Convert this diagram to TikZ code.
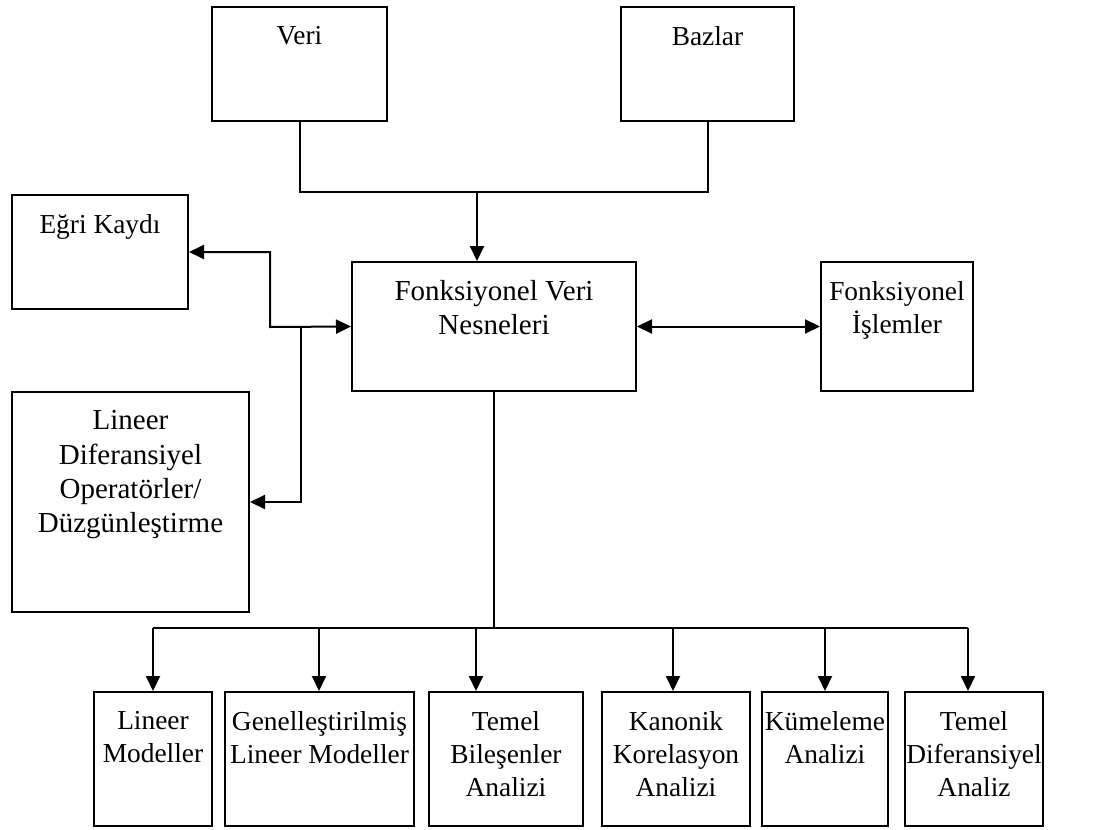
\documentclass[tikz,border=0pt]{standalone}
\usepackage{fontspec}
\setmainfont{Liberation Serif}
\usetikzlibrary{arrows.meta,positioning}

\tikzset{
  box/.style={draw, line width=1pt, inner sep=0pt},
  txt/.style={inner sep=0pt, align=center, font=\fontsize{13.7pt}{16.6pt}\selectfont},
  uptxt/.style={txt, font=\fontsize{14.5pt}{17.2pt}\selectfont},
  wire/.style={line width=1pt},
  arr/.style={wire, -{Triangle[length=7.5pt,width=7pt]}},
  arrs/.style={wire, {Triangle[length=7.5pt,width=7pt]}-{Triangle[length=7.5pt,width=7pt]}},
}

\begin{document}
\begin{tikzpicture}[x=0.5pt, y=-0.5pt]

	\useasboundingbox (0,0) rectangle (1109,830);

	% Node definitions.
	\node[box, minimum width=87.5pt, minimum height=57pt]   (veri) at (299.5,64) {};
	\node[box, minimum width=86.5pt, minimum height=57pt] (bazlar) at (707.5,64) {};
	\node[box, minimum width=88pt, minimum height=57pt]     (egri) at (100,252) {};
	\node[box, minimum width=142pt, minimum height=64.5pt]  (fonk) at (494,326.5) {};
	\node[box, minimum width=76pt, minimum height=64.5pt]  (islem) at (897,326.5) {};
	\node[box, minimum width=118.5pt, minimum height=110pt] (lineer) at (130.5,502) {};

	\node[box, minimum width=59pt, minimum height=67pt]   (m1) at (153,759) {};
	\node[box, minimum width=94.5pt, minimum height=67pt] (m2) at (319.5,759) {};
	\node[box, minimum width=77pt, minimum height=67pt]   (m3) at (506,759) {};
	\node[box, minimum width=74pt, minimum height=67pt]   (m4) at (676,759) {};
	\node[box, minimum width=63pt, minimum height=67pt]   (m5) at (825,759) {};
	\node[box, minimum width=69pt, minimum height=67pt]   (m6) at (974,759) {};

	% Texts.
	\node[txt, below=10pt of veri.north]        (veri_t) {Veri};
	\node[txt, below=10pt of bazlar.north]    (bazlar_t) {Bazlar};
	\node[txt, below=10pt of egri.north]        (egri_t) {Eğri Kaydı};
	\node[uptxt, below=9.5pt of fonk.north]     (fonk_t) {Fonksiyonel Veri\\Nesneleri};
	\node[txt, below=10pt of islem.north]      (islem_t) {Fonksiyonel\\İşlemler};
	\node[uptxt, below=9.5pt of lineer.north] (lineer_t) {Lineer\\Diferansiyel\\Operatörler/\\Düzgünleştirme};

	\node[txt, below=10pt of m1.north] (m1_t) {Lineer\\Modeller};
	\node[txt, below=10pt of m2.north] (m2_t) {Genelleştirilmiş\\Lineer Modeller};
	\node[txt, below=10pt of m3.north] (m3_t) {Temel\\Bileşenler\\Analizi};
	\node[txt, below=10pt of m4.north] (m4_t) {Kanonik\\Korelasyon\\Analizi};
	\node[txt, below=10pt of m5.north] (m5_t) {Kümeleme\\Analizi};
	\node[txt, below=10pt of m6.north] (m6_t) {Temel\\Diferansiyel\\Analiz};

	% Arrows.
	\coordinate (merge) at (477,192);
	\draw[wire] (veri.south) |- (merge) -| (bazlar.south);
	\draw[arr] (merge) -- (merge |- fonk.north);

	\coordinate (kink) at (270,327);
	\coordinate  (tap) at (301,327);
	\draw[arrs] (egri.east) -| (kink) -- (fonk.west);
	\draw[arr] (tap) |- (lineer.east);

	\draw[arrs] (fonk.east) -- (islem.west);

	\coordinate (busl) at (153,628);
	\coordinate (busr) at (968,628);
	\draw[wire] (fonk.south) -- (fonk.south |- busl);
	\draw[wire] (busl) -- (busr);
	\foreach \name/\xx in {m1/153, m2/319, m3/476, m4/673, m5/825, m6/968}
		{
		\coordinate (drop) at (\xx,628);
		\draw[arr] (drop) -- (drop |- \name.north);
		}

\end{tikzpicture}
\end{document}
